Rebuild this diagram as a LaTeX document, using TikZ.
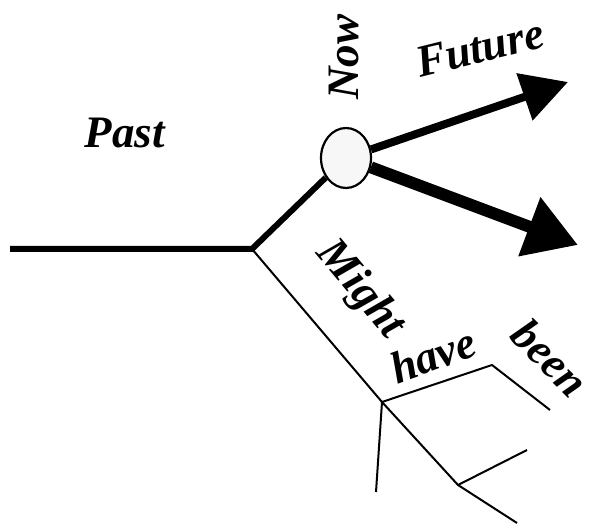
\documentclass[tikz,border=0pt]{standalone}
\usepackage{fontspec}
\setmainfont{Liberation Serif}
\usetikzlibrary{arrows.meta,shapes.geometric}
\tikzset{
  lbl/.style={font=\fontsize{45}{45}\selectfont\bfseries\itshape, inner sep=0pt},
  thickline/.style={line width=6pt, line join=miter},
  thinline/.style={line width=2pt, line join=miter},
  nowdot/.style={ellipse, draw, line width=2.2pt, fill=gray!6, minimum width=50pt, minimum height=60pt, inner sep=0pt},
}
\begin{document}
\begin{tikzpicture}[x=1pt,y=-1pt]
\useasboundingbox (0,0) rectangle (592,526);
% nodes and points
\node[nowdot] (now) at (346,158) {};
\coordinate (p0) at (10,249);
\coordinate (j) at (252,249);
\coordinate (ft) at (568,82);
\coordinate (lt) at (578,245);
\coordinate (a) at (382,402);
\coordinate (b) at (458,485);
\coordinate (c) at (517,523);
\coordinate (d) at (492,365);
\coordinate (e) at (550,410);
\coordinate (g) at (376,492);
\coordinate (h) at (527,450);
% thick past line
\draw[thickline] (p0) -- (j) -- (now);
% arrows
\draw[line width=8pt, -{Triangle[length=46pt,width=48pt]}] (now) -- (ft);
\draw[line width=12pt, -{Triangle[length=52pt,width=60pt]}] (now) -- (lt);
% might have been
\draw[thinline] (j) -- (a) -- (b) -- (c);
\draw[thinline] (a) -- (d) -- (e);
\draw[thinline] (a) -- (g);
\draw[thinline] (b) -- (h);
% labels
\node[lbl] (past) at (125,133) {Past};
\node[lbl, rotate=90] (nowl) at (344,57) {Now};
\node[lbl, rotate=14] (future) at (480,48) {Future};
\node[lbl, rotate=-50] (might) at (360,290) {Might};
\node[lbl, rotate=20] (have) at (433,355) {have};
\node[lbl, rotate=-45] (been) at (550,358) {been};
\end{tikzpicture}
\end{document}
